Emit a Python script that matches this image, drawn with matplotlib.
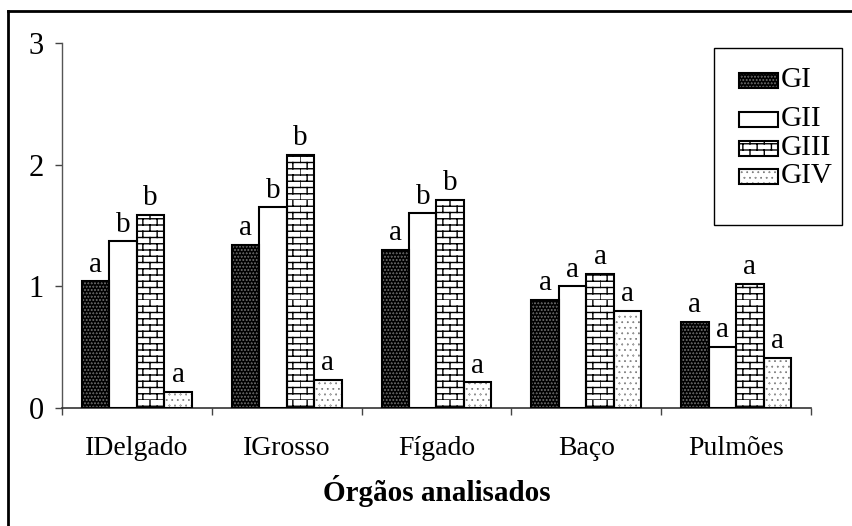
import warnings
warnings.filterwarnings("ignore")
import numpy as np
import matplotlib
matplotlib.use("Agg")
import matplotlib.pyplot as plt
import matplotlib.hatch as mhatch
from matplotlib.path import Path
from matplotlib.patches import Rectangle
from matplotlib.lines import Line2D

# ---------------- data ----------------
categories = ["IDelgado", "IGrosso", "Fígado", "Baço", "Pulmões"]
series_names = ["GI", "GII", "GIII", "GIV"]
GI = [1.04, 1.34, 1.30, 0.89, 0.71]
GII = [1.37, 1.65, 1.60, 1.00, 0.50]
GIII = [1.59, 2.08, 1.71, 1.10, 1.02]
GIV = [0.13, 0.23, 0.21, 0.80, 0.41]
letters_GI = ["a", "a", "a", "a", "a"]
letters_GII = ["b", "b", "b", "a", "a"]
letters_GIII = ["b", "b", "b", "a", "a"]
letters_GIV = ["a", "a", "a", "a", "a"]
yticks = [0, 1, 2, 3]
xlabel = "Órgãos analisados"


# ---------------- custom hatches ----------------
class BrickHatch(mhatch.HatchPatternBase):
    def __init__(self, hatch, density):
        n = hatch.count('b')
        self.nrows = 16 * n
        self.ncols = 7
        self.num_vertices = (2 * self.nrows + 2 * self.nrows * self.ncols) if n else 0

    def set_vertices_and_codes(self, vertices, codes):
        idx = 0
        for i in range(self.nrows):
            y0 = i / self.nrows
            y1 = (i + 1) / self.nrows
            vertices[idx] = (0, y0)
            vertices[idx + 1] = (1, y0)
            codes[idx] = Path.MOVETO
            codes[idx + 1] = Path.LINETO
            idx += 2
            off = 0.5 * (i % 2)
            for j in range(self.ncols):
                xx = ((j + off) / self.ncols) % 1.0
                vertices[idx] = (xx, y0)
                vertices[idx + 1] = (xx, y1)
                codes[idx] = Path.MOVETO
                codes[idx + 1] = Path.LINETO
                idx += 2


class DenseDots(mhatch.Circles):
    size = 0.04
    filled = True

    def __init__(self, hatch, density):
        self.num_rows = hatch.count('q') * density
        super().__init__(hatch, density)


class SparseDots(mhatch.Circles):
    size = 0.03
    filled = True

    def __init__(self, hatch, density):
        self.num_rows = hatch.count('p') * density
        super().__init__(hatch, density)


mhatch._hatch_types.extend([BrickHatch, DenseDots, SparseDots])

plt.rcParams['font.family'] = ['Liberation Serif', 'DejaVu Serif']
plt.rcParams['hatch.linewidth'] = 1.0

W, H = 853, 526
fig = plt.figure(figsize=(W / 100, H / 100), dpi=100)
fig.patch.set_facecolor('white')

def fx(px):
    return px / W

def fy(py):
    return 1 - py / H

ax = fig.add_axes([fx(62), fy(408), fx(811) - fx(62), fy(43) - fy(408)])

series = [GI, GII, GIII, GIV]
letters = [letters_GI, letters_GII, letters_GIII, letters_GIV]
faces = ['black', 'white', 'white', 'white']
hcols = ['white', 'white', 'black', 'black']
hatches = ['qqqqq', None, 'b', 'ppp']

x = np.arange(len(categories))
w = 0.183
for k, vals in enumerate(series):
    xs = x + (k - 1.5) * w
    ax.bar(xs, vals, w, color=faces[k], edgecolor=hcols[k], hatch=hatches[k],
           linewidth=0, zorder=2)
    ax.bar(xs, vals, w, fill=False, edgecolor='black', linewidth=1.5, zorder=3)
    for i in range(len(categories)):
        ax.annotate(letters[k][i], (xs[i], vals[i]), xytext=(0, 7),
                    textcoords='offset points', ha='center', va='baseline',
                    fontsize=21)

ax.set_xlim(-0.5, len(categories) - 0.5)
ax.set_ylim(0, 3)
ax.set_yticks(yticks)
ax.set_yticklabels([str(t) for t in yticks], fontsize=22)
ax.tick_params(axis='y', direction='out', length=5, width=1, pad=8, color='#444444')

ax.set_xticks(np.arange(len(categories) + 1) - 0.5)
ax.set_xticklabels([])
ax.tick_params(axis='x', which='major', direction='out', length=5, width=1, color='#444444')
ax.set_xticks(x, minor=True)
ax.set_xticklabels(categories, minor=True, fontsize=20)
ax.tick_params(axis='x', which='minor', length=0, pad=20)

ax.set_xlabel(xlabel, fontsize=21, fontweight='bold', labelpad=10)

for s in ['top', 'right']:
    ax.spines[s].set_visible(False)
ax.spines['left'].set_color('#555555')
ax.spines['bottom'].set_color('#333333')
ax.spines['left'].set_linewidth(1)
ax.spines['bottom'].set_linewidth(1.2)

# ---------------- legend (manual) ----------------
fig.add_artist(Rectangle((fx(714), fy(225)), fx(842) - fx(714), fy(48) - fy(225),
                         transform=fig.transFigure, facecolor='white',
                         edgecolor='black', linewidth=1.0, zorder=5))
leg_y = [80, 119, 148, 176]
for k, name in enumerate(series_names):
    yc = leg_y[k]
    fig.add_artist(Rectangle((fx(739), fy(yc + 7.5)), fx(778) - fx(739), 15 / H,
                             transform=fig.transFigure, facecolor=faces[k],
                             edgecolor=hcols[k], hatch=hatches[k], linewidth=0,
                             zorder=6))
    fig.add_artist(Rectangle((fx(739), fy(yc + 7.5)), fx(778) - fx(739), 15 / H,
                             transform=fig.transFigure, fill=False,
                             edgecolor='black', linewidth=1.5, zorder=7))
    fig.text(fx(781), fy(yc), name, fontsize=21, ha='left', va='center', zorder=8)

# ---------------- outer frame (left & top visible) ----------------
fig.add_artist(Line2D([fx(8), fx(8)], [0, fy(11)], transform=fig.transFigure,
                      color='black', linewidth=2))
fig.add_artist(Line2D([fx(8), 1], [fy(11), fy(11)], transform=fig.transFigure,
                      color='black', linewidth=2))

fig.savefig('out.png', dpi=100)
